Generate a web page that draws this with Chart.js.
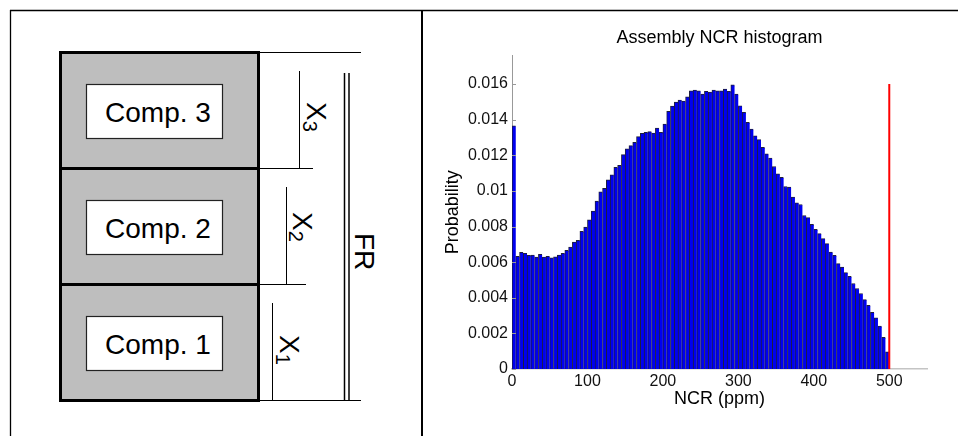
<!DOCTYPE html>
<html>
<head>
<meta charset="utf-8">
<script src="https://cdn.jsdelivr.net/npm/chart.js@4.4.0/dist/chart.umd.min.js"></script>
<style>
  html, body { margin: 0; padding: 0; background: #fff; }
  #wrap { position: relative; width: 958px; height: 436px; overflow: hidden; background: #fff; }
  #diagram { position: absolute; left: 0; top: 0; }
  #chart { position: absolute; left: 423px; top: 11px; }
</style>
</head>
<body>
<div id="wrap">
<svg id="diagram" width="958" height="436" xmlns="http://www.w3.org/2000/svg" font-family="'Liberation Sans', Arial, sans-serif">
  <!-- frame -->
  <line x1="10" y1="10.5" x2="958" y2="10.5" stroke="#000" stroke-width="1.3"/>
  <line x1="10.5" y1="10" x2="10.5" y2="436" stroke="#000" stroke-width="1.3"/>
  <line x1="422" y1="10" x2="422" y2="436" stroke="#000" stroke-width="2"/>
  <!-- component stack -->
  <rect x="60.5" y="52.5" width="198" height="348" fill="#bebebe" stroke="#000" stroke-width="3"/>
  <line x1="60" y1="168.5" x2="259" y2="168.5" stroke="#000" stroke-width="3"/>
  <line x1="60" y1="284.5" x2="259" y2="284.5" stroke="#000" stroke-width="3"/>
  <rect x="86.5" y="84.5" width="136" height="54" fill="#fff" stroke="#222" stroke-width="1.2"/>
  <rect x="86.5" y="200.5" width="136" height="54" fill="#fff" stroke="#222" stroke-width="1.2"/>
  <rect x="86.5" y="316.5" width="136" height="54" fill="#fff" stroke="#222" stroke-width="1.2"/>
  <text x="158" y="122" font-size="28" text-anchor="middle" fill="#000">Comp. 3</text>
  <text x="158" y="238" font-size="28" text-anchor="middle" fill="#000">Comp. 2</text>
  <text x="158" y="354" font-size="28" text-anchor="middle" fill="#000">Comp. 1</text>
  <!-- dimension lines -->
  <line x1="259" y1="52.5" x2="361" y2="52.5" stroke="#000" stroke-width="1"/>
  <line x1="259" y1="168.5" x2="313" y2="168.5" stroke="#000" stroke-width="1"/>
  <line x1="259" y1="284.5" x2="306" y2="284.5" stroke="#000" stroke-width="1"/>
  <line x1="259" y1="400.5" x2="361" y2="400.5" stroke="#000" stroke-width="1"/>
  <line x1="299.5" y1="71" x2="299.5" y2="168" stroke="#000" stroke-width="1"/>
  <line x1="286.5" y1="187" x2="286.5" y2="284" stroke="#000" stroke-width="1"/>
  <line x1="272.5" y1="303" x2="272.5" y2="400" stroke="#000" stroke-width="1"/>
  <line x1="344.5" y1="73" x2="344.5" y2="401" stroke="#000" stroke-width="1.5"/>
  <line x1="349" y1="73" x2="349" y2="401" stroke="#000" stroke-width="1.5"/>
  <text transform="translate(306.5,102) rotate(90)" font-size="28" fill="#000">X<tspan font-size="20" dy="4">3</tspan></text>
  <text transform="translate(293,212) rotate(90)" font-size="28" fill="#000">X<tspan font-size="20" dy="4">2</tspan></text>
  <text transform="translate(280,335) rotate(90)" font-size="28" fill="#000">X<tspan font-size="20" dy="4">1</tspan></text>
  <text transform="translate(355,233) rotate(90)" font-size="28" fill="#000">FR</text>
</svg>
<canvas id="chart" width="535" height="425"></canvas>
</div>
<script>
// ---- data ----
const binCenters = [
  2.5, 7.5, 12.5, 17.5, 22.5, 27.5, 32.5, 37.5, 42.5, 47.5,
  52.5, 57.5, 62.5, 67.5, 72.5, 77.5, 82.5, 87.5, 92.5, 97.5,
  102.5, 107.5, 112.5, 117.5, 122.5, 127.5, 132.5, 137.5, 142.5, 147.5,
  152.5, 157.5, 162.5, 167.5, 172.5, 177.5, 182.5, 187.5, 192.5, 197.5,
  202.5, 207.5, 212.5, 217.5, 222.5, 227.5, 232.5, 237.5, 242.5, 247.5,
  252.5, 257.5, 262.5, 267.5, 272.5, 277.5, 282.5, 287.5, 292.5, 297.5,
  302.5, 307.5, 312.5, 317.5, 322.5, 327.5, 332.5, 337.5, 342.5, 347.5,
  352.5, 357.5, 362.5, 367.5, 372.5, 377.5, 382.5, 387.5, 392.5, 397.5,
  402.5, 407.5, 412.5, 417.5, 422.5, 427.5, 432.5, 437.5, 442.5, 447.5,
  452.5, 457.5, 462.5, 467.5, 472.5, 477.5, 482.5, 487.5, 492.5, 497.5
];
const probability = [
  0.01366, 0.00633, 0.00655, 0.00650, 0.00638, 0.00640, 0.00629, 0.00644, 0.00629, 0.00633,
  0.00625, 0.00630, 0.00640, 0.00650, 0.00666, 0.00685, 0.00713, 0.00722, 0.00773, 0.00797,
  0.00838, 0.00887, 0.00943, 0.00995, 0.01014, 0.01062, 0.01090, 0.01133, 0.01144, 0.01204,
  0.01236, 0.01254, 0.01273, 0.01305, 0.01323, 0.01329, 0.01333, 0.01325, 0.01353, 0.01329,
  0.01376, 0.01447, 0.01476, 0.01499, 0.01510, 0.01505, 0.01529, 0.01562, 0.01566, 0.01562,
  0.01544, 0.01559, 0.01555, 0.01566, 0.01562, 0.01562, 0.01572, 0.01559, 0.01596, 0.01544,
  0.01478, 0.01441, 0.01385, 0.01348, 0.01310, 0.01288, 0.01245, 0.01208, 0.01185, 0.01137,
  0.01096, 0.01077, 0.01025, 0.01021, 0.00965, 0.00933, 0.00924, 0.00862, 0.00850, 0.00812,
  0.00784, 0.00760, 0.00732, 0.00704, 0.00657, 0.00638, 0.00592, 0.00573, 0.00541, 0.00521,
  0.00480, 0.00452, 0.00424, 0.00390, 0.00358, 0.00318, 0.00287, 0.00241, 0.00178, 0.00097
];
const limitX = [500, 500];
const limitY = [0, 0.016];
const xTicks = [0, 100, 200, 300, 400, 500];
const yTicks = [0, 0.002, 0.004, 0.006, 0.008, 0.010, 0.012, 0.014, 0.016];
const yTickLabels = ['0', '0.002', '0.004', '0.006', '0.008', '0.01', '0.012', '0.014', '0.016'];
const titleText = 'Assembly NCR histogram';
const xLabel = 'NCR (ppm)';
const yLabel = 'Probability';

// ---- chart ----
Chart.defaults.font.family = "'Liberation Sans', Arial, sans-serif";
Chart.defaults.color = '#111';

const barData = binCenters.map((x, i) => ({ x: x, y: probability[i] }));
const lineData = limitX.map((x, i) => ({ x: x, y: limitY[i] }));

const inwardTicks = {
  id: 'inwardTicks',
  afterDatasetsDraw(chart) {
    const { ctx, chartArea, scales } = chart;
    ctx.save();
    ctx.strokeStyle = '#999';
    ctx.lineWidth = 1;
    yTicks.forEach(v => {
      const py = Math.round(scales.y.getPixelForValue(v)) + 0.5;
      ctx.beginPath();
      ctx.moveTo(chartArea.left, py);
      ctx.lineTo(chartArea.left + 4, py);
      ctx.stroke();
    });
    ctx.restore();
  }
};

new Chart(document.getElementById('chart'), {
  type: 'bar',
  data: {
    datasets: [
      {
        type: 'bar',
        data: barData,
        backgroundColor: '#0000f0',
        borderColor: '#1e1e3c',
        borderWidth: { left: 1, top: 1, right: 0, bottom: 0 },
        borderSkipped: false,
        barPercentage: 1,
        categoryPercentage: 1,
        order: 2
      },
      {
        type: 'line',
        data: lineData,
        borderColor: '#ff0000',
        borderWidth: 2,
        pointRadius: 0,
        fill: false,
        order: 1
      }
    ]
  },
  options: {
    responsive: false,
    animation: false,
    devicePixelRatio: 1,
    layout: { padding: { left: 0, right: 31, top: 0, bottom: 0 } },
    plugins: {
      legend: { display: false },
      tooltip: { enabled: false },
      title: {
        display: true,
        text: titleText,
        fullSize: false,
        color: '#000',
        font: { size: 18, weight: 'normal' },
        padding: { top: 16, bottom: 7 }
      }
    },
    scales: {
      x: {
        type: 'linear',
        min: 0,
        max: 550,
        offset: false,
        grid: { display: false, drawTicks: false },
        border: { display: true, color: '#c4c4c4', width: 1.5 },
        afterBuildTicks: s => { s.ticks = xTicks.map(v => ({ value: v })); },
        afterFit: s => { s.height = 67; },
        ticks: {
          padding: 3,
          color: '#111',
          font: { size: 16 },
          maxRotation: 0,
          autoSkip: false,
          callback: v => String(v)
        },
        title: {
          display: true,
          text: xLabel,
          color: '#000',
          font: { size: 18 },
          padding: { top: 0, bottom: 26 }
        }
      },
      y: {
        type: 'linear',
        min: 0,
        max: 0.0176,
        grid: { display: false, drawTicks: false },
        border: { display: true, color: '#999', width: 1 },
        afterBuildTicks: s => { s.ticks = yTicks.map(v => ({ value: v })); },
        afterFit: s => { s.width = 89; },
        ticks: {
          padding: 4,
          color: '#111',
          font: { size: 16 },
          autoSkip: false,
          callback: (v, i) => yTickLabels[i]
        },
        title: {
          display: true,
          text: yLabel,
          color: '#000',
          font: { size: 18 },
          padding: { top: 19, bottom: 0 }
        }
      }
    }
  },
  plugins: [inwardTicks]
});
</script>
</body>
</html>
